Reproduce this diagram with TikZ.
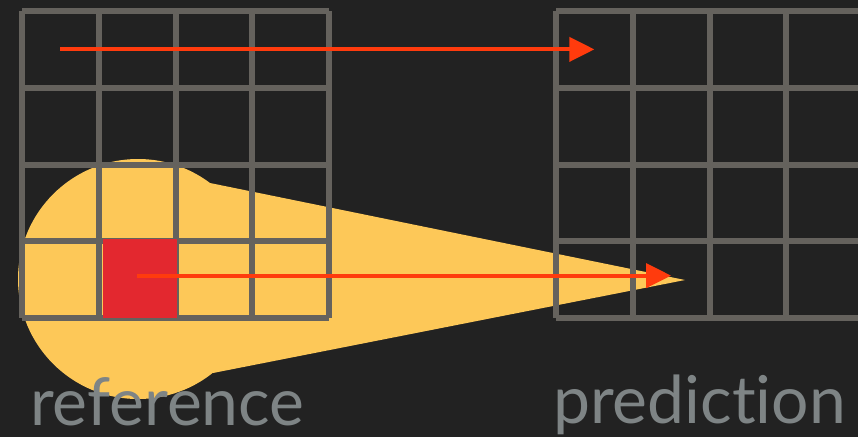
\documentclass[tikz,border=0pt]{standalone}
\usepackage{fontspec}
\setmainfont{Lato}[Ligatures={NoCommon,NoDiscretionary}]
\usetikzlibrary{arrows.meta}
\definecolor{bg}{HTML}{222222}
\definecolor{gridgrey}{HTML}{65625D}
\definecolor{blobyellow}{HTML}{FDC858}
\definecolor{cellred}{HTML}{E3282F}
\definecolor{arrowred}{HTML}{FF3B0D}
\definecolor{captiongrey}{HTML}{7E8485}
\begin{document}
\begin{tikzpicture}[x=1pt,y=-1pt,
  gridline/.style={draw=gridgrey,line width=6pt},
  arr/.style={draw=arrowred,line width=4pt,-{Triangle[length=25pt,width=24pt]}},
  caption/.style={anchor=base west,inner sep=0pt,text=captiongrey,font=\fontsize{66}{66}\selectfont}]
\useasboundingbox (0,0) rectangle (858,437);
\fill[bg] (0,0) rectangle (858,437);
\clip (0,0) rectangle (858,437);
\coordinate (tip) at (685,280);
\fill[blobyellow] (138,279) circle[radius=120];
\fill[blobyellow] (tip) -- (210,183) -- (213,373) -- cycle;
\foreach \k in {0,...,4} {
  \draw[gridline] ({22+76.75*\k},11) -- ({22+76.75*\k},318);
  \draw[gridline] ({556+76.75*\k},11) -- ({556+76.75*\k},318);
  \draw[gridline] (22,{11+76.75*\k}) -- (329,{11+76.75*\k});
  \draw[gridline] (556,{11+76.75*\k}) -- (866,{11+76.75*\k});
}
\foreach \i in {1,...,4} \foreach \j in {1,...,4} {
  \coordinate (L-\i-\j) at ({22+76.75*(\i-0.5)},{11+76.75*(\j-0.5)});
  \coordinate (R-\i-\j) at ({556+76.75*(\i-0.5)},{11+76.75*(\j-0.5)});
}
\fill[cellred] (103.3,239.3) rectangle (176.7,318.3);
\draw[arr] (L-1-1) -- (R-1-1);
\draw[arr] ([yshift=4pt]L-2-4) -- ([yshift=4pt]R-2-4);
\node[caption] (ref) at (30,425) {reference};
\node[caption] (pred) at (553,423) {prediction};
\end{tikzpicture}
\end{document}
